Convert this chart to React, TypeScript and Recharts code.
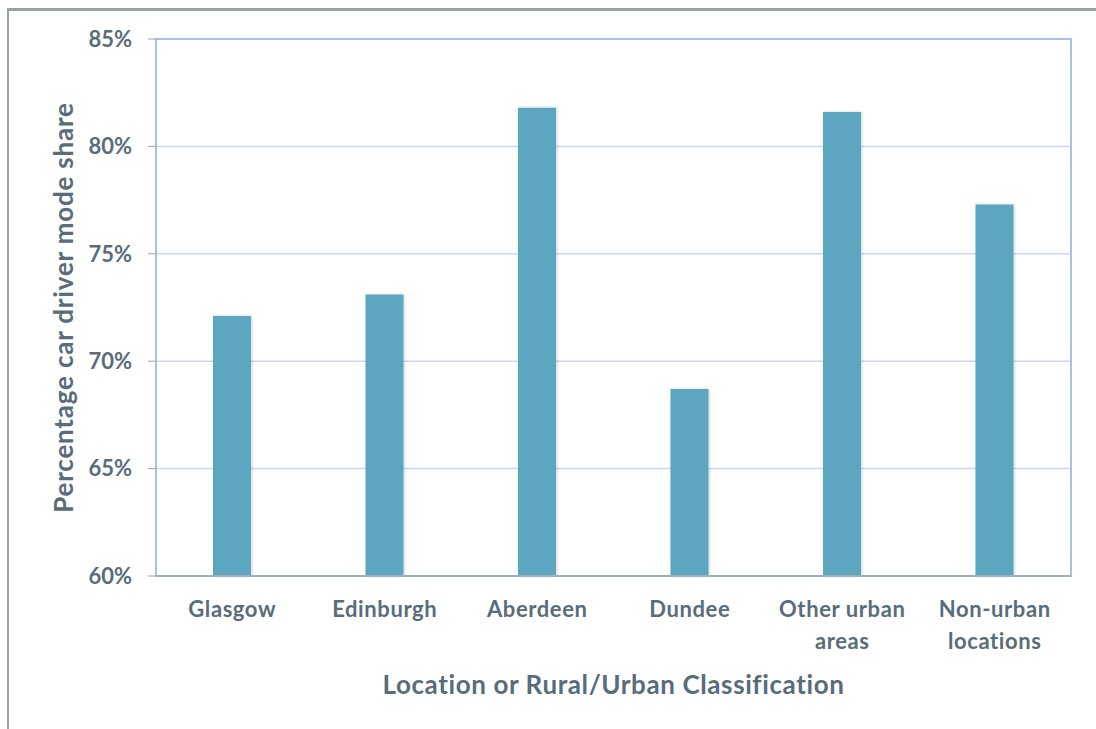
import React from "react";
import { BarChart, Bar, XAxis, YAxis, CartesianGrid, ReferenceArea, Label } from "recharts";

const categories = ["Glasgow", "Edinburgh", "Aberdeen", "Dundee", "Other urban areas", "Non-urban locations"];
const categoryLines = [["Glasgow"], ["Edinburgh"], ["Aberdeen"], ["Dundee"], ["Other urban", "areas"], ["Non-urban", "locations"]];
const shareValues = [72.1, 73.1, 81.8, 68.7, 81.6, 77.3];
const yTicks = [60, 65, 70, 75, 80, 85];

const data = categories.map((c, i) => ({ name: c, value: shareValues[i] }));

const TEXT = "#596c7b";
const FONT = "Lato, 'Open Sans', sans-serif";

const XTick = (props: any) => {
  const { x, y, index } = props;
  const lines = categoryLines[index] || [props.payload.value];
  return (
    <text x={x} y={y} textAnchor="middle" fill={TEXT} fontFamily={FONT} fontSize={22} fontWeight={700} letterSpacing={0.6}>
      {lines.map((l: string, i: number) => (
        <tspan key={i} x={x} dy={i === 0 ? 33 : 32}>{l}</tspan>
      ))}
    </text>
  );
};

export default function App() {
  return (
    <div style={{ position: "absolute", left: 0, top: 0, width: 1096, height: 729, background: "#fff", overflow: "hidden" }}>
      <div style={{ position: "absolute", left: 7, top: 8, width: 1200, height: 800, borderLeft: "2px solid #9aa1a7", borderTop: "3px solid #9aa1a7" }} />
      <div style={{ position: "absolute", left: 0, top: 0 }}>
        <BarChart width={1096} height={729} data={data} margin={{ top: 39, right: 25, left: 70, bottom: 53 }}>
          <defs>
            <filter id="barShadow" x="-30%" y="-5%" width="160%" height="110%">
              <feDropShadow dx="1" dy="0" stdDeviation="1.5" floodColor="#000" floodOpacity="0.18" />
            </filter>
          </defs>
          <CartesianGrid vertical={false} stroke="#cbd6ef" strokeWidth={1.5} />
          <ReferenceArea y1={60} y2={85} fill="none" stroke="#a8bfe8" strokeWidth={2} ifOverflow="visible" />
          <XAxis
            dataKey="name"
            tick={<XTick />}
            tickLine={false}
            axisLine={{ stroke: "#a3adbb", strokeWidth: 2 }}
            interval={0}
            height={100}
          >
            <Label value="Location or Rural/Urban Classification" position="bottom" offset={0} fill={TEXT} fontFamily={FONT} fontSize={26} fontWeight={700} letterSpacing={0.6} />
          </XAxis>
          <YAxis
            domain={[60, 85]}
            ticks={yTicks}
            tickFormatter={(v: number) => `${v}%`}
            tick={{ fill: TEXT, fontFamily: FONT, fontSize: 22, fontWeight: 700 }}
            tickLine={{ stroke: "#9aa4ae" }}
            tickSize={8}
            tickMargin={16}
            axisLine={false}
            width={86}
          >
            <Label
              value="Percentage car driver mode share"
              angle={-90}
              position="insideLeft"
              offset={-6}
              style={{ textAnchor: "middle" }}
              fill={TEXT}
              fontFamily={FONT}
              fontSize={26}
              fontWeight={700}
              letterSpacing={0.8}
            />
          </YAxis>
          <Bar dataKey="value" fill="#5ba6c0" barSize={38} isAnimationActive={false} filter="url(#barShadow)" />
        </BarChart>
      </div>
    </div>
  );
}
